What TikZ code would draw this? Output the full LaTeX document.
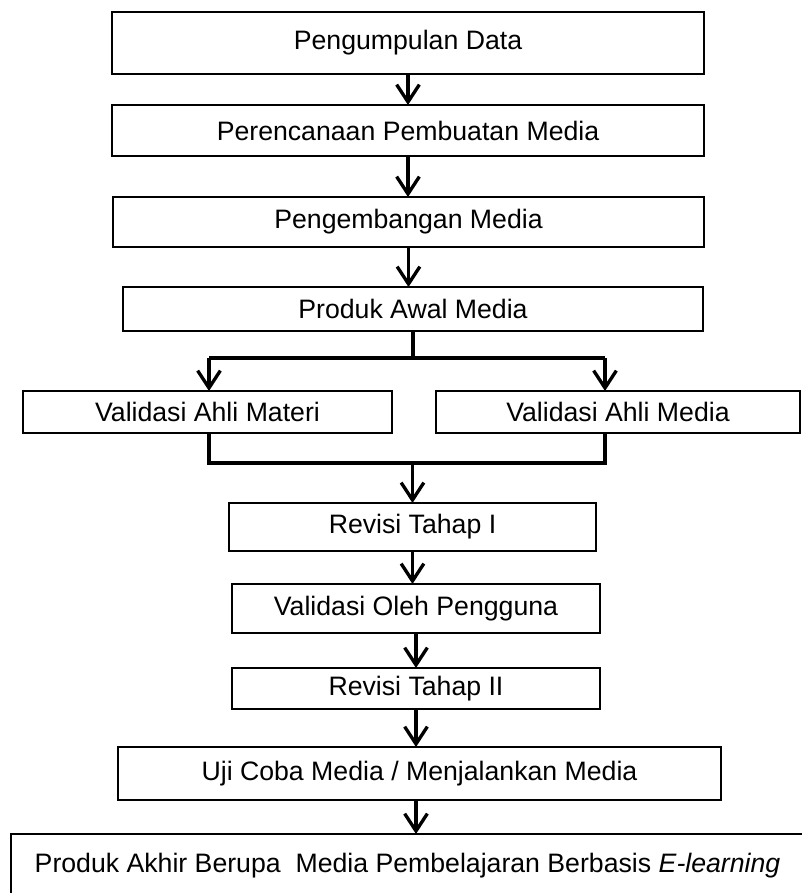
\documentclass[tikz,border=0pt]{standalone}
\usepackage{fontspec}
\setmainfont{Liberation Sans}
\usetikzlibrary{arrows.meta}
\begin{document}
\begin{tikzpicture}[x=0.75pt, y=-0.75pt,
    box/.style={draw, line width=1.8pt, inner sep=0pt, outer sep=0pt, font=\fontsize{20}{24}\selectfont},
    arr/.style={-{Straight Barb[length=13pt, width=17pt]}, line width=2.5pt},
    lin/.style={line width=2.5pt}]
    \useasboundingbox (0,0) rectangle (802,893);

    % Tahap awal
    \node[box, minimum width=444pt, minimum height=46.5pt] (kumpul) at (408,43) {Pengumpulan Data};
    \node[box, minimum width=444pt, minimum height=38.25pt] (rencana) at (408,130.5) {Perencanaan Pembuatan Media};
    \node[box, minimum width=443.25pt, minimum height=37.5pt] (kembang) at (408.5,222) {Pengembangan Media};
    \node[box, minimum width=435pt, minimum height=33pt] (awal) at (413,309) {Produk Awal Media};

    % Validasi ahli
    \node[box, minimum width=276.75pt, minimum height=31.5pt] (materi) at (207.5,412) {Validasi Ahli Materi};
    \node[box, minimum width=273pt, minimum height=31.5pt] (media) at (618,412) {Validasi Ahli Media};

    % Revisi dan uji coba
    \node[box, minimum width=275.25pt, minimum height=36pt] (revisi1) at (412.5,527) {Revisi Tahap I};
    \node[box, minimum width=276pt, minimum height=36.75pt] (pengguna) at (416,608.5) {Validasi Oleh Pengguna};
    \node[box, minimum width=276pt, minimum height=30.75pt] (revisi2) at (416,688.5) {Revisi Tahap II};
    \node[box, minimum width=452.25pt, minimum height=39.75pt] (ujicoba) at (419.5,773.5) {Uji Coba Media / Menjalankan Media};
    \node[box, minimum width=594.75pt, minimum height=48pt] (akhir) at (407.5,866) {Produk Akhir Berupa\ \ Media Pembelajaran Berbasis \textit{E-learning}};

    % Titik cabang
    \coordinate (cabangL) at (209,358);
    \coordinate (cabangR) at (605,358);
    \coordinate (gabungL) at (209,463);
    \coordinate (gabungR) at (605,463);

    % Panah alur
    \draw[arr] (kumpul.south) -- (kumpul.south |- rencana.north);
    \draw[arr] (rencana.south) -- (rencana.south |- kembang.north);
    \draw[arr] (kembang.south) -- (kembang.south |- awal.north);

    \draw[lin] (awal.south) -- (awal.south |- cabangL);
    \draw[lin] (cabangL) -- (cabangR);
    \draw[arr] (cabangL) -- (cabangL |- materi.north);
    \draw[arr] (cabangR) -- (cabangR |- media.north);

    \draw[lin] (gabungL |- materi.south) -- (gabungL) -- (gabungR) -- (gabungR |- media.south);
    \draw[arr] (revisi1.north |- gabungL) -- (revisi1.north);

    \draw[arr] (revisi1.south) -- (revisi1.south |- pengguna.north);
    \draw[arr] (pengguna.south) -- (pengguna.south |- revisi2.north);
    \draw[arr] (revisi2.south) -- (revisi2.south |- ujicoba.north);
    \draw[arr] (ujicoba.south -| revisi2.south) -- (revisi2.south |- akhir.north);
\end{tikzpicture}
\end{document}
